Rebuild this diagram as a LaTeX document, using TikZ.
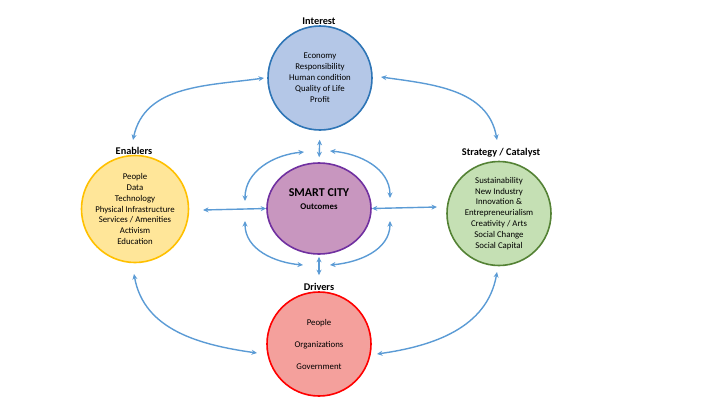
\documentclass[tikz,border=0pt]{standalone}
\usepackage{fontspec}
\setmainfont{Carlito}
\usetikzlibrary{arrows.meta,shapes.geometric}
\definecolor{arr}{HTML}{5B9BD5}
\definecolor{intfill}{HTML}{B4C7E7}
\definecolor{intline}{HTML}{2E75B6}
\definecolor{scfill}{HTML}{C896BF}
\definecolor{scline}{HTML}{7030A0}
\definecolor{enfill}{HTML}{FFE699}
\definecolor{enline}{HTML}{FFC000}
\definecolor{stfill}{HTML}{C5E0B4}
\definecolor{stline}{HTML}{548235}
\definecolor{drfill}{HTML}{F4A09C}
\definecolor{drline}{HTML}{FF0000}
\tikzset{
  bubble/.style={circle, line width=1.6pt, minimum size=104pt, inner sep=0pt, align=center,
    font=\fontsize{8.8}{10.9}\selectfont},
  ttl/.style={font=\fontsize{10.3}{12}\selectfont\bfseries, inner sep=0pt},
  conn/.style={draw=arr, line width=1.4pt, {Stealth[length=5.5pt,width=5pt]}-{Stealth[length=5.5pt,width=5pt]}},
}
\begin{document}
\begin{tikzpicture}[x=1pt,y=1pt]
\useasboundingbox (0,0) rectangle (720,-405);
% circles
\node[bubble, fill=intfill, draw=intline] (I) at (320,-78) {Economy\\Responsibility\\Human condition\\Quality of Life\\Profit};
\node[bubble, fill=enfill, draw=enline] (E) at (135,-209) {People\\Data\\Technology\\Physical Infrastructure\\Services / Amenities\\Activism\\Education};
\node[bubble, fill=stfill, draw=stline] (S) at (499,-213.5) {Sustainability\\New Industry\\Innovation \&\\Entrepreneurialism\\Creativity / Arts\\Social Change\\Social Capital};
\node[bubble, fill=drfill, draw=drline, font=\fontsize{8.8}{22}\selectfont] (D) at (319,-344) {People\\Organizations\\Government};
\node[ellipse, fill=scfill, draw=scline, line width=1.6pt, minimum width=104pt, minimum height=91pt, inner sep=0pt] (SC) at (319,-208.5) {};
\node[inner sep=0pt, font=\fontsize{12}{14}\selectfont\bfseries] (SCa) at (319,-193) {SMART CITY};
\node[inner sep=0pt, font=\fontsize{8.8}{10}\selectfont\bfseries] (SCb) at (319,-206.5) {Outcomes};
% titles
\node[ttl] (It) at (319,-21) {Interest};
\node[ttl] (Et) at (134,-151) {Enablers};
\node[ttl] (St) at (501,-153) {Strategy / Catalyst};
\node[ttl] (Dt) at (319,-287) {Drivers};
% free ends
\coordinate (e1) at (133,-140);
\coordinate (i1) at (264,-78);
\coordinate (i2) at (381,-77);
\coordinate (s1) at (497,-140);
\coordinate (e2) at (134,-274);
\coordinate (d1) at (257,-353);
\coordinate (s2) at (497,-272);
\coordinate (d2) at (377,-354);
% big curves
\draw[conn] (e1) to[out=78,in=188] (i1);
\draw[conn] (i2) to[out=-8,in=100] (s1);
\draw[conn] (e2) to[out=-80,in=172] (d1);
\draw[conn] (s2) to[out=-100,in=8] (d2);
% straight connectors
\draw[conn, shorten <=9pt, shorten >=5pt] (I.south) -- (SC.north);
\draw[conn, shorten <=2pt, shorten >=16pt] (SC.south) -- (D.north);
\draw[conn] (203,-210) coordinate (h1) -- (SC.west);
\draw[conn] (SC.east) -- (437,-207) coordinate (h2);
% small curves
\coordinate (a1) at (245,-201);
\coordinate (a2) at (304,-152);
\coordinate (b3) at (330,-151);
\coordinate (b4) at (390,-198);
\coordinate (c1) at (245,-221);
\coordinate (c2) at (303,-265);
\coordinate (d3) at (390,-221);
\coordinate (d4) at (330,-265);
\draw[conn] (a1) to[out=90,in=185] (a2);
\draw[conn] (b3) to[out=-5,in=90] (b4);
\draw[conn] (c1) to[out=-90,in=175] (c2);
\draw[conn] (d3) to[out=-90,in=5] (d4);
\end{tikzpicture}
\end{document}
